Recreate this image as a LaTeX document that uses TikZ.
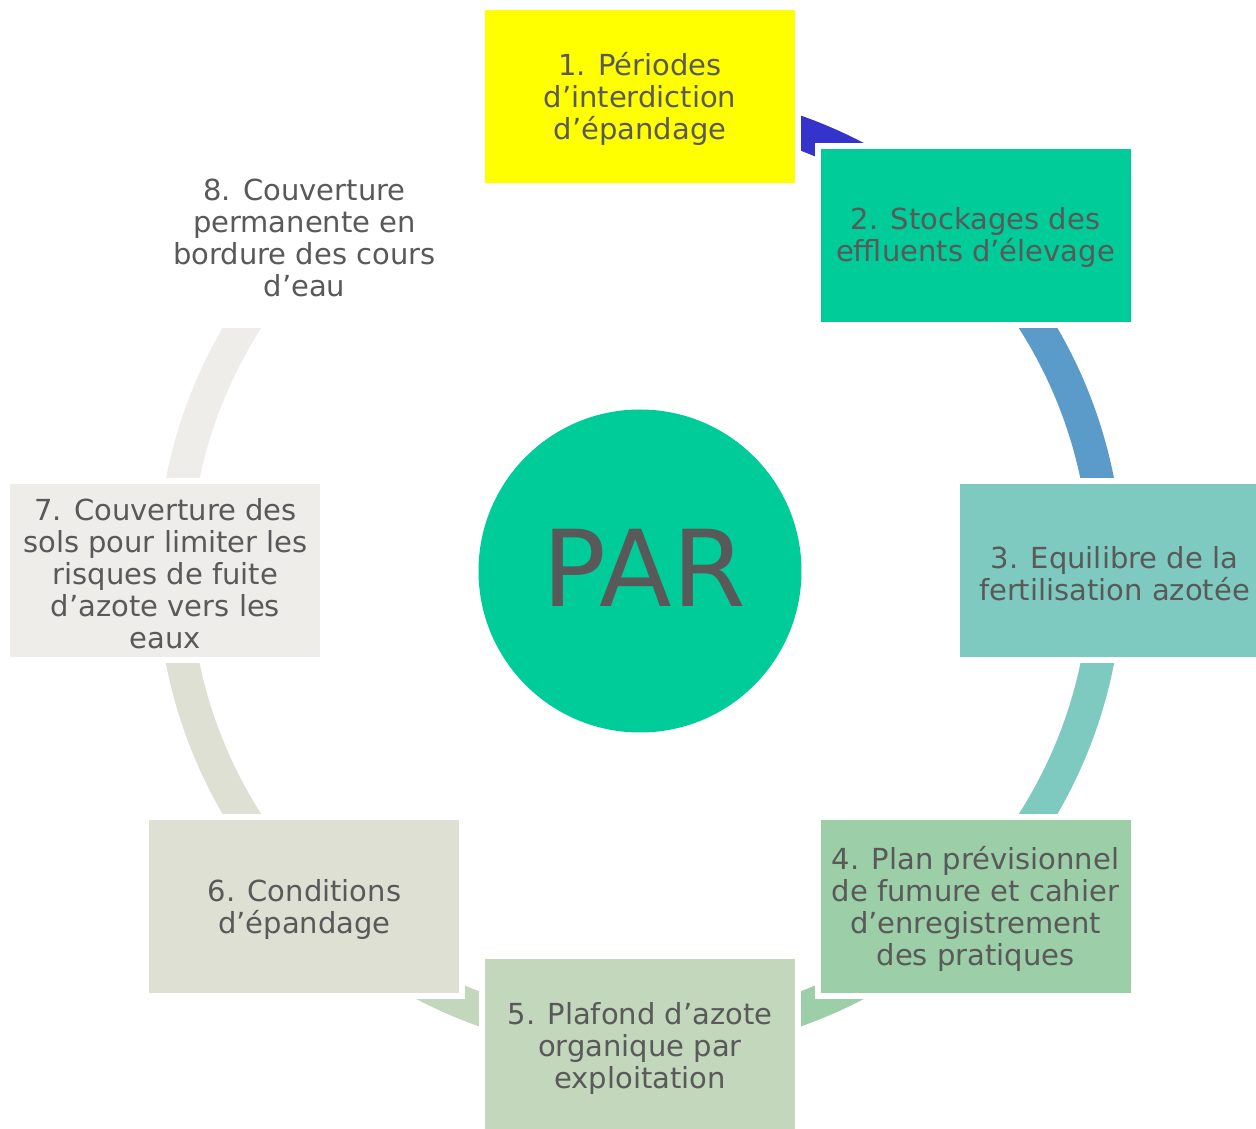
\documentclass[tikz,border=0pt]{standalone}
\usepackage{fontspec}
\setmainfont{DejaVu Sans}
\definecolor{txt}{HTML}{595959}
\definecolor{cyellow}{HTML}{FFFF00}
\definecolor{cgreen}{HTML}{00CC99}
\definecolor{cteal}{HTML}{7FCAC0}
\definecolor{cmint}{HTML}{9CCFA8}
\definecolor{csage}{HTML}{C2D7BB}
\definecolor{cstone}{HTML}{DFE0D4}
\definecolor{cpale}{HTML}{EEEDEA}
\definecolor{arcblue}{HTML}{3434CC}
\definecolor{arcsky}{HTML}{5B9BC9}
\begin{document}
\begin{tikzpicture}[x=1pt,y=1pt,
  box/.style={rectangle, minimum width=316pt, minimum height=179pt,
    draw=white, line width=6pt, inner sep=0pt},
  boxtext/.style={align=center, text=txt, inner sep=0pt, yshift=-2.5pt,
    font=\fontsize{29}{32}\selectfont}
]
\clip (-640,-558) rectangle (616,571);
\fill[white] (-640,-558) rectangle (616,571);
% ring segments
\foreach \a/\b/\col in {90/45/arcblue, 45/0/arcsky, 0/-45/cteal, -45/-90/cmint,
  -90/-135/csage, -135/-180/cstone, 180/135/cpale}{
  \fill[\col] (\a:483) arc[start angle=\a, end angle=\b, radius=483]
    -- (\b:450) arc[start angle=\b, end angle=\a, radius=450] -- cycle;
}
% centre
\node[circle, fill=cgreen, minimum size=323pt, inner sep=0pt] (c) at (0,0) {};
\node[font=\fontsize{106}{110}\selectfont, text=txt, inner sep=0pt, xshift=4pt, yshift=3pt] (par) at (c.center) {PAR};
% boxes
\node[box, fill=cyellow, label={[boxtext]center:1. Périodes\\d’interdiction\\d’épandage}] (b1) at (90:474.5) {};
\node[box, fill=cgreen, label={[boxtext]center:2. Stockages des\\effluents d’élevage}] (b2) at (45:474.5) {};
\node[box, fill=cteal, label={[boxtext]center:3. Equilibre de la\\fertilisation azotée}] (b3) at (0:474.5) {};
\node[box, fill=cmint, label={[boxtext]center:4. Plan prévisionnel\\de fumure et cahier\\d’enregistrement\\des pratiques}] (b4) at (-45:474.5) {};
\node[box, fill=csage, label={[boxtext]center:5. Plafond d’azote\\organique par\\exploitation}] (b5) at (-90:474.5) {};
\node[box, fill=cstone, label={[boxtext]center:6. Conditions\\d’épandage}] (b6) at (-135:474.5) {};
\node[box, fill=cpale, label={[boxtext]center:7. Couverture des\\sols pour limiter les\\risques de fuite\\d’azote vers les\\eaux}] (b7) at (180:474.5) {};
\node[box, fill=white, label={[boxtext]center:8. Couverture\\permanente en\\bordure des cours\\d’eau}] (b8) at (135:474.5) {};
\end{tikzpicture}
\end{document}
